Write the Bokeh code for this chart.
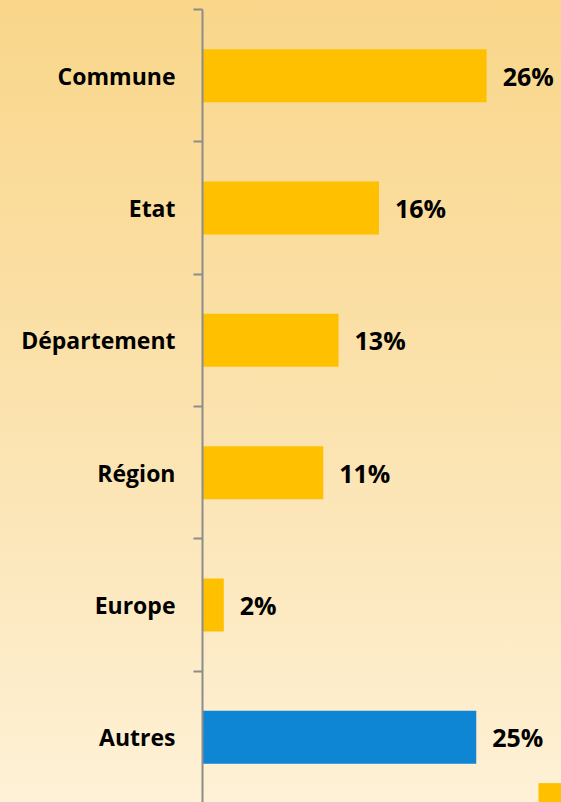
from bokeh.plotting import figure
from bokeh.models import Range1d, FixedTicker, ColumnDataSource, Legend, LegendItem
from bokeh.embed import file_html
from bokeh.resources import INLINE
from bokeh.core.properties import value

# ---- data ----
categories = ["Commune", "Etat", "Département", "Région", "Europe", "Autres"]
values = [26.0, 16.15, 12.45, 11.05, 1.95, 25.05]
labels = ["26%", "16%", "13%", "11%", "2%", "25%"]
positions = [0, 1, 2, 3, 4, 5]
boundaries = [-0.5, 0.5, 1.5, 2.5, 3.5, 4.5, 5.5]
colors = ["#FFC000", "#FFC000", "#FFC000", "#FFC000", "#FFC000", "#0E86D4"]

src = ColumnDataSource(dict(y=positions, v=values, lab=labels, c=colors))

p = figure(width=561, height=802, output_backend="svg", toolbar_location=None,
           x_range=Range1d(0, 32.85), y_range=Range1d(5.4925, -0.568),
           min_border_left=202, min_border_right=0, min_border_top=0, min_border_bottom=0,
           styles={"background": "linear-gradient(180deg, #F9D68A 0%, #FBE2AD 50%, #FEF1D6 100%)"})
p.background_fill_alpha = 0
p.border_fill_alpha = 0
p.outline_line_color = None
p.xgrid.visible = False
p.ygrid.visible = False
p.xaxis.visible = False

bars = p.hbar(y="y", right="v", left=0, height=0.4, fill_color="c", line_color=None, source=src)

p.text(x="v", y="y", text="lab", source=src, x_offset=16, y_offset=0,
       text_align="left", text_baseline="middle",
       text_font=value("Open Sans"), text_font_style="bold", text_font_size="25px",
       text_color="#000000")

ax = p.yaxis[0]
ax.ticker = FixedTicker(ticks=positions, minor_ticks=boundaries)
ax.bounds = (-0.5, 5.5)
ax.major_label_overrides = {pos: cat for pos, cat in zip(positions, categories)}
ax.axis_line_color = "#8C8C8C"
ax.axis_line_width = 2
ax.major_tick_line_color = None
ax.major_tick_in = 0
ax.major_tick_out = 0
ax.minor_tick_line_color = "#8C8C8C"
ax.minor_tick_line_width = 2
ax.minor_tick_in = 0
ax.minor_tick_out = 9
ax.major_label_standoff = 18
ax.major_label_text_font = "Open Sans"
ax.major_label_text_font_style = "bold"
ax.major_label_text_font_size = "23px"
ax.major_label_text_color = "#000000"

legend = Legend(items=[LegendItem(label=" ", renderers=[bars], index=0)],
                location=(333, -4), glyph_width=30, glyph_height=26,
                padding=0, margin=0, spacing=0, label_standoff=0,
                border_line_color=None, background_fill_alpha=0,
                label_text_font_size="1px")
p.add_layout(legend, "center")

open("out.html", "w").write(file_html(p, INLINE))
